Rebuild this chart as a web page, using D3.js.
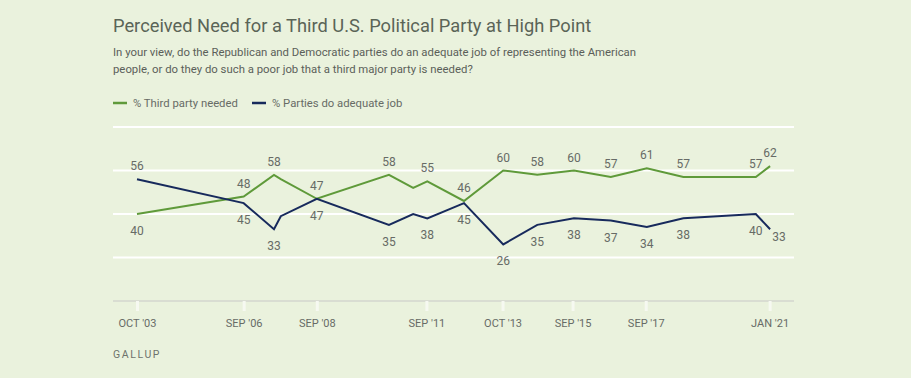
<!DOCTYPE html>
<html>
<head>
<meta charset="utf-8">
<script src="https://cdn.jsdelivr.net/npm/d3@7/dist/d3.min.js"></script>
<style>
  html, body { margin: 0; padding: 0; background: #eaf2dd; }
  svg { display: block; }
</style>
</head>
<body>
<svg id="chart" width="911" height="378"></svg>
<script>
// ---- data ----
const surveyDates = ["2003-10-01","2006-09-01","2007-07-01","2007-09-07","2008-09-01","2010-08-23","2011-04-22","2011-09-10","2012-09-11","2013-10-08","2014-09-13","2015-09-15","2016-09-17","2017-09-12","2018-09-12","2020-09-05","2021-01-26"];
const thirdPartyNeeded = [40,48,58,56,47,58,52,55,46,60,58,60,57,61,57,57,62];
const partiesAdequate  = [56,45,33,39,47,35,40,38,45,26,35,38,37,34,38,40,33];
const showLabel = [true,true,true,false,true,true,false,true,true,true,true,true,true,true,true,true,true];
const tickDates  = ["2003-10-01","2006-09-01","2008-09-01","2011-09-01","2013-10-01","2015-09-01","2017-09-01","2021-01-21"];
const tickLabels = ["OCT '03","SEP '06","SEP '08","SEP '11","OCT '13","SEP '15","SEP '17","JAN '21"];
const gridValues = [20,40,60,80];
const seriesNames = ["% Third party needed","% Parties do adequate job"];

const title = "Perceived Need for a Third U.S. Political Party at High Point";
const subtitle = ["In your view, do the Republican and Democratic parties do an adequate job of representing the American",
                  "people, or do they do such a poor job that a third major party is needed?"];

const GREEN = "#5f9a3a", BLUE = "#172a5c", TEXT = "#676b66";
const parse = d3.timeParse("%Y-%m-%d");
const dates = surveyDates.map(parse);

const svg = d3.select("#chart");
const font = "Roboto, 'Open Sans', sans-serif";

const x = d3.scaleTime().domain([parse("2003-10-01"), parse("2021-01-21")]).range([137, 769.6]);
const y = d3.scaleLinear().domain([0, 80]).range([301, 127]);

// title & subtitle
svg.append("text").attr("x", 113).attr("y", 32).text(title)
  .attr("font-family", font).attr("font-size", 18.3).attr("fill", "#5a6457");
subtitle.forEach((s, i) => {
  svg.append("text").attr("x", 113).attr("y", 56 + i * 16.5).text(s)
    .attr("font-family", font).attr("font-size", 11.35).attr("fill", "#5b5f5a");
});

// legend
const legendX = [113, 252];
seriesNames.forEach((n, i) => {
  const g = svg.append("g").attr("transform", `translate(${legendX[i]},103)`);
  g.append("line").attr("x1", 0).attr("x2", 14).attr("stroke", i ? BLUE : GREEN).attr("stroke-width", 2.5);
  g.append("text").attr("x", 20).attr("y", 4).text(n)
    .attr("font-family", font).attr("font-size", 11.3).attr("fill", TEXT);
});

// grid
svg.append("g").selectAll("line").data(gridValues).join("line")
  .attr("x1", 113).attr("x2", 794)
  .attr("y1", d => y(d)).attr("y2", d => y(d))
  .attr("stroke", "#ffffff").attr("stroke-width", 2);

// x axis
const xAxis = d3.axisBottom(x)
  .tickValues(tickDates.map(parse))
  .tickFormat((d, i) => tickLabels[i])
  .tickSize(10).tickPadding(8);
const ax = svg.append("g").attr("transform", `translate(0,${y(0)})`).call(xAxis);
ax.select(".domain").remove();
ax.insert("line", ":first-child").attr("x1", 113).attr("x2", 794).attr("y1", 0).attr("y2", 0)
  .attr("stroke", "#d9ddd2").attr("stroke-width", 2);
ax.selectAll(".tick line").attr("stroke", "#f6f9f1").attr("stroke-width", 3);
ax.selectAll(".tick text").attr("font-family", font).attr("font-size", 11).attr("fill", TEXT);

// lines
const lineGen = vals => d3.line().x((d, i) => x(dates[i])).y(d => y(d))(vals);
svg.append("path").attr("d", lineGen(thirdPartyNeeded)).attr("fill", "none")
  .attr("stroke", GREEN).attr("stroke-width", 2);
svg.append("path").attr("d", lineGen(partiesAdequate)).attr("fill", "none")
  .attr("stroke", BLUE).attr("stroke-width", 2);

// labels
const last = dates.length - 1;
dates.forEach((d, i) => {
  if (!showLabel[i]) return;
  const g = thirdPartyNeeded[i], b = partiesAdequate[i];
  const greenAbove = g >= b;
  const lbl = (v, above, dx, dy) => {
    svg.append("text").attr("x", x(d) + dx).attr("y", y(v) + (above ? -9 : 21) + dy)
      .attr("text-anchor", "middle").text(v)
      .attr("font-family", font).attr("font-size", 12).attr("fill", TEXT);
  };
  lbl(g, greenAbove, 0, 0);
  if (i === last) lbl(b, false, 9, -9);
  else lbl(b, !greenAbove, 0, 0);
});

// source
svg.append("text").attr("x", 113).attr("y", 358).text("GALLUP")
  .attr("font-family", font).attr("font-size", 10.5).attr("letter-spacing", 1.6)
  .attr("fill", "#6e726c");
</script>
</body>
</html>
